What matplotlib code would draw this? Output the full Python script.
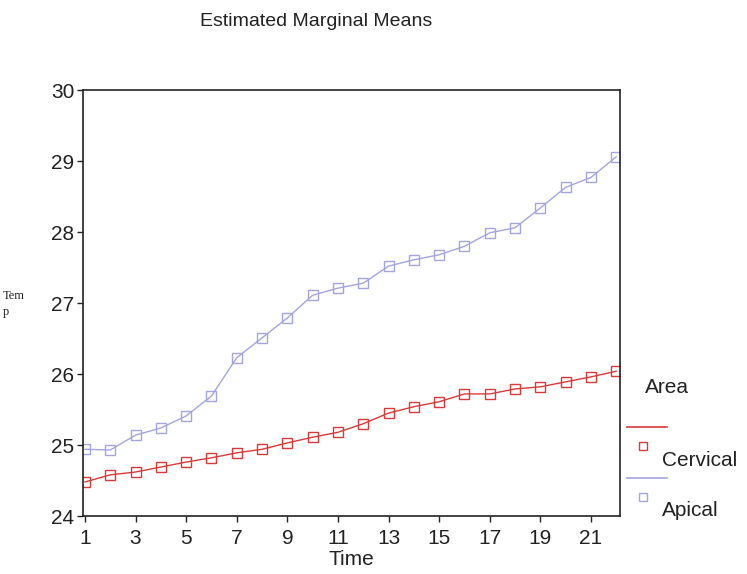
import numpy as np
import matplotlib
matplotlib.use('Agg')
from matplotlib import pyplot as plt

plt.rcParams['font.family'] = ['Liberation Sans', 'DejaVu Sans']

time = np.arange(1, 23)
cervical = [24.48, 24.58, 24.62, 24.69, 24.76, 24.82, 24.89, 24.94, 25.03, 25.11, 25.18,
            25.30, 25.45, 25.54, 25.61, 25.72, 25.72, 25.79, 25.82, 25.89, 25.96, 26.04]
apical = [24.94, 24.93, 25.14, 25.24, 25.41, 25.69, 26.23, 26.51, 26.79, 27.11, 27.21,
          27.28, 27.52, 27.61, 27.68, 27.80, 27.99, 28.06, 28.34, 28.63, 28.77, 29.06]
xticks = list(range(1, 23, 2))
yticks = [24, 25, 26, 27, 28, 29, 30]

red = '#d83a3a'
blue = '#a4a4e0'
ink = '#222222'

fig = plt.figure(figsize=(7.47, 5.74), dpi=100)
ax = fig.add_axes([0.111, 0.101, 0.719, 0.742])

ax.plot(time, cervical, color=red, lw=1.0, marker='s', ms=7, mfc='none', mec=red, mew=1.0)
ax.plot(time, apical, color=blue, lw=1.0, marker='s', ms=7, mfc='none', mec=blue, mew=1.0)

ax.set_xlim(0.92, 22.15)
ax.set_ylim(24, 30)
ax.set_xticks(xticks)
ax.set_yticks(yticks)
ax.tick_params(labelsize=15, length=4, width=1, direction='out', colors=ink, labelcolor=ink)
ax.tick_params(axis='x', pad=5)
ax.tick_params(axis='y', pad=2)
for s in ax.spines.values():
    s.set_linewidth(1.2)
    s.set_color(ink)

ax.set_xlabel('Time', fontsize=15, labelpad=2, color=ink)
fig.text(0.423, 0.963, 'Estimated Marginal Means', fontsize=14, ha='center', va='center', color=ink)
fig.text(0.004, 0.470, 'Tem\np', fontsize=9, family='Liberation Serif', va='center',
         linespacing=1.4, color=ink)

# legend drawn by hand outside the axes
fig.text(0.863, 0.325, 'Area', fontsize=15, va='center', color=ink)
fig.add_artist(plt.Line2D([0.840, 0.893], [0.256, 0.256], color=red, lw=1.2))
fig.add_artist(plt.Line2D([0.861], [0.223], color=red, marker='s', ms=6, mfc='none', mew=1.0))
fig.text(0.886, 0.198, 'Cervical', fontsize=15, va='center', color=ink)
fig.add_artist(plt.Line2D([0.840, 0.893], [0.167, 0.167], color=blue, lw=1.2))
fig.add_artist(plt.Line2D([0.861], [0.134], color=blue, marker='s', ms=6, mfc='none', mew=1.0))
fig.text(0.886, 0.111, 'Apical', fontsize=15, va='center', color=ink)

fig.savefig('out.png', dpi=100)
